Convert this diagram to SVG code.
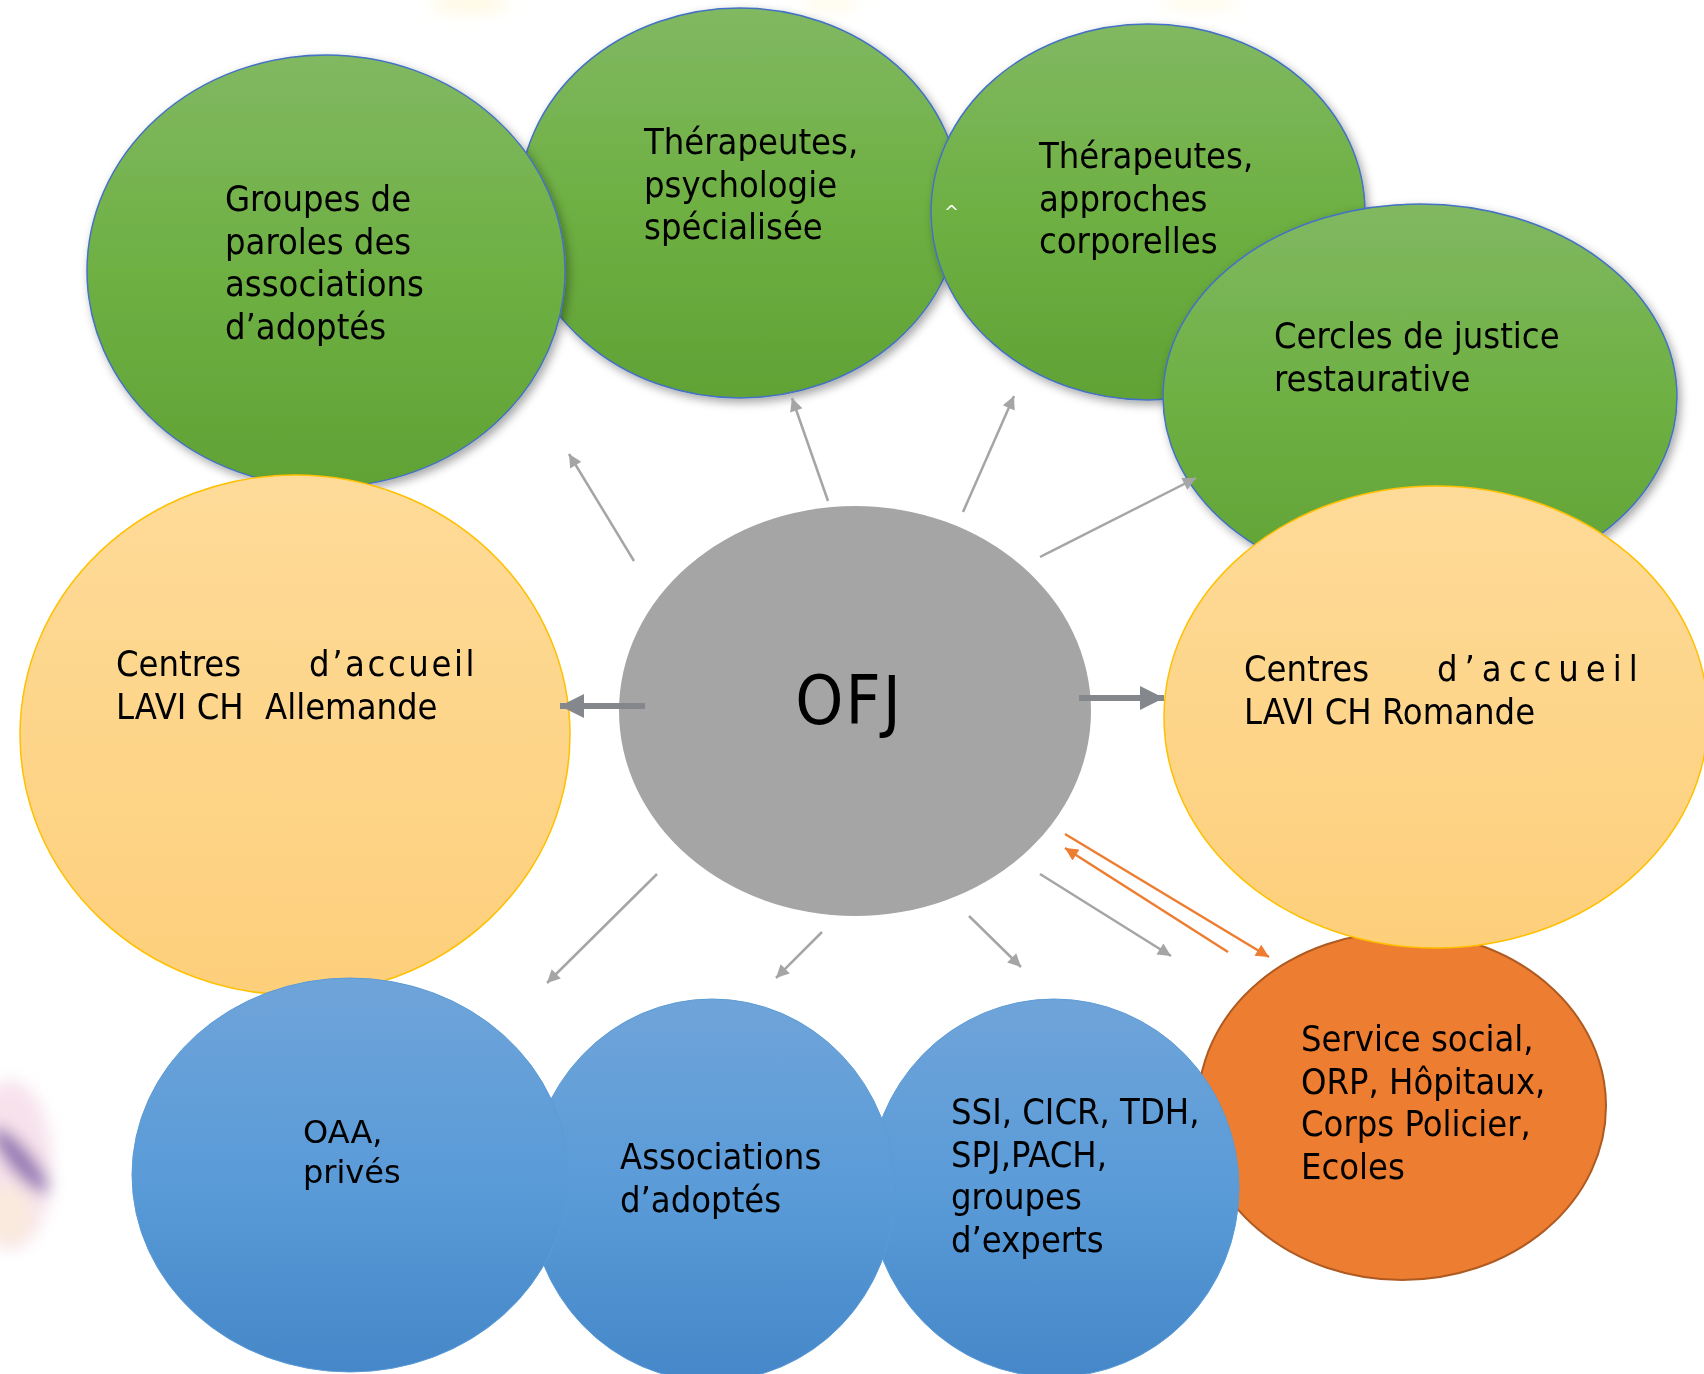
<svg xmlns="http://www.w3.org/2000/svg" width="1704" height="1374" viewBox="0 0 1704 1374">
  <style>
    .lbl { font-family: "DejaVu Sans Condensed", "DejaVu Sans", "Liberation Sans", sans-serif; font-size: 36px; fill: #000; }
    .lbl2 { font-family: "DejaVu Sans", "Liberation Sans", sans-serif; font-size: 32px; fill: #000; }
    .green { fill: url(#gGreen); stroke: #4472c4; stroke-width: 1.5; filter: url(#shadow); }
    .yellow { fill: url(#gYellow); stroke: #ffc000; stroke-width: 1.5; }
    .blue { fill: url(#gBlue); stroke: #5b9bd5; stroke-width: 1; }
    .orange { fill: #ed7d31; stroke: #ae5a21; stroke-width: 2; }
    .gray { fill: #a5a5a5; }
    .thin { stroke: #a5a5a5; stroke-width: 2.5; fill: none; marker-end: url(#mGray); }
    .thick { stroke: #84878b; stroke-width: 6; fill: none; marker-end: url(#mThick); }
    .org { stroke: #ed7d31; stroke-width: 2.5; fill: none; marker-end: url(#mOrange); }
  </style>
  <defs>
    <linearGradient id="gGreen" x1="0" y1="0" x2="0" y2="1">
      <stop offset="0" stop-color="#81b862"/>
      <stop offset="0.5" stop-color="#6eb043"/>
      <stop offset="1" stop-color="#61a235"/>
    </linearGradient>
    <linearGradient id="gYellow" x1="0" y1="0" x2="0" y2="1">
      <stop offset="0" stop-color="#fedb99"/>
      <stop offset="1" stop-color="#fdcf7b"/>
    </linearGradient>
    <linearGradient id="gBlue" x1="0" y1="0" x2="0" y2="1">
      <stop offset="0" stop-color="#6fa4d9"/>
      <stop offset="0.5" stop-color="#5a9bd8"/>
      <stop offset="1" stop-color="#4587c8"/>
    </linearGradient>
    <filter id="shadow" x="-10%" y="-10%" width="125%" height="125%">
      <feDropShadow dx="3" dy="4" stdDeviation="5" flood-color="#000" flood-opacity="0.35"/>
    </filter>
    <filter id="blur" x="-50%" y="-50%" width="200%" height="200%">
      <feGaussianBlur stdDeviation="8"/>
    </filter>
    <marker id="mGray" viewBox="0 0 10 10" refX="10" refY="5" markerUnits="userSpaceOnUse" markerWidth="16" markerHeight="13" orient="auto">
      <path d="M0,0 L10,5 L0,10 z" fill="#a5a5a5"/>
    </marker>
    <marker id="mThick" viewBox="0 0 10 10" refX="10" refY="5" markerUnits="userSpaceOnUse" markerWidth="24" markerHeight="24" orient="auto">
      <path d="M0,0 L10,5 L0,10 z" fill="#84878b"/>
    </marker>
    <marker id="mOrange" viewBox="0 0 10 10" refX="10" refY="5" markerUnits="userSpaceOnUse" markerWidth="16" markerHeight="13" orient="auto">
      <path d="M0,0 L10,5 L0,10 z" fill="#ed7d31"/>
    </marker>
  </defs>

  <rect width="1704" height="1374" fill="#ffffff"/>

  <!-- faint smears along the top and left edges -->
  <g id="smudges" filter="url(#blur)">
    <ellipse cx="470" cy="4" rx="40" ry="8" fill="#fff3c8" opacity="0.6"/>
    <ellipse cx="830" cy="3" rx="30" ry="6" fill="#fff3c8" opacity="0.5"/>
    <ellipse cx="1200" cy="3" rx="40" ry="6" fill="#fff3c8" opacity="0.5"/>
    <ellipse cx="10" cy="1165" rx="42" ry="85" fill="#f3d6e4" opacity="0.7"/>
    <ellipse cx="8" cy="1215" rx="25" ry="30" fill="#fbf0d4" opacity="0.6"/>
    <ellipse cx="20" cy="1160" rx="12" ry="42" transform="rotate(-40 20 1160)" fill="#7a5ca6" opacity="0.8"/>
  </g>

  <!-- top row: green nodes -->
  <g id="node-therapeutes-psy">
    <ellipse class="green" cx="740" cy="203" rx="221" ry="195"/>
    <text class="lbl" x="644" y="154">Thérapeutes,<tspan x="644" dy="42.5">psychologie</tspan><tspan x="644" dy="42.5">spécialisée</tspan></text>
  </g>
  <g id="node-therapeutes-corps">
    <ellipse class="green" cx="1148" cy="212" rx="217" ry="188"/>
    <text class="lbl" x="1039" y="168">Thérapeutes,<tspan x="1039" dy="42.5">approches</tspan><tspan x="1039" dy="42.5">corporelles</tspan></text>
    <text x="944" y="218" font-family="DejaVu Sans, sans-serif" font-size="18" fill="#ffffff">^</text>
  </g>
  <g id="node-cercles">
    <ellipse class="green" cx="1420" cy="397" rx="257" ry="193"/>
    <text class="lbl" x="1274" y="348">Cercles de justice<tspan x="1274" dy="42.5">restaurative</tspan></text>
  </g>
  <g id="node-groupes">
    <ellipse class="green" cx="326" cy="271" rx="239" ry="216"/>
    <text class="lbl" x="225" y="211">Groupes de<tspan x="225" dy="42.5">paroles des</tspan><tspan x="225" dy="42.5">associations</tspan><tspan x="225" dy="42.5">d’adoptés</tspan></text>
  </g>

  <!-- middle row -->
  <g id="node-lavi-allemande">
    <ellipse class="yellow" cx="295" cy="735" rx="275" ry="260"/>
    <text class="lbl" x="116" y="676">Centres<tspan x="309" letter-spacing="2.6">d’accueil</tspan><tspan x="116" dy="42.5">LAVI CH</tspan><tspan x="265">Allemande</tspan></text>
  </g>
  <g id="node-social">
    <ellipse class="orange" cx="1402" cy="1106" rx="204" ry="174"/>
    <text class="lbl" x="1301" y="1051">Service social,<tspan x="1301" dy="42.5">ORP, Hôpitaux,</tspan><tspan x="1301" dy="42.5">Corps Policier,</tspan><tspan x="1301" dy="42.5">Ecoles</tspan></text>
  </g>
  <g id="node-lavi-romande">
    <ellipse class="yellow" cx="1436" cy="717" rx="272" ry="231"/>
    <text class="lbl" x="1244" y="681">Centres<tspan x="1437" letter-spacing="7">d’accueil</tspan><tspan x="1244" dy="42.5">LAVI CH Romande</tspan></text>
  </g>

  <!-- bottom row: blue nodes -->
  <g id="node-ssi">
    <ellipse class="blue" cx="1054" cy="1188" rx="185" ry="189"/>
    <text class="lbl" x="951" y="1124">SSI, CICR, TDH,<tspan x="951" dy="42.5">SPJ,PACH,</tspan><tspan x="951" dy="42.5">groupes</tspan><tspan x="951" dy="42.5">d’experts</tspan></text>
  </g>
  <g id="node-associations">
    <ellipse class="blue" cx="712" cy="1190" rx="183" ry="191"/>
    <text class="lbl" x="620" y="1169">Associations<tspan x="620" dy="42.5">d’adoptés</tspan></text>
  </g>
  <g id="node-oaa">
    <ellipse class="blue" cx="350" cy="1175" rx="218" ry="197"/>
    <text class="lbl2" x="303" y="1143">OAA,<tspan x="303" dy="40">privés</tspan></text>
  </g>

  <!-- centre -->
  <g id="node-ofj">
    <ellipse class="gray" cx="855" cy="711" rx="236" ry="205"/>
    <text x="849" y="724" text-anchor="middle" font-family="DejaVu Sans Condensed, DejaVu Sans, sans-serif" font-size="68" letter-spacing="2" fill="#000">OFJ</text>
  </g>

  <!-- connectors -->
  <g id="connectors">
    <line class="thin" x1="634" y1="561" x2="569" y2="454"/>
    <line class="thin" x1="828" y1="501" x2="792" y2="398"/>
    <line class="thin" x1="963" y1="512" x2="1014" y2="396"/>
    <line class="thin" x1="1040" y1="557" x2="1196" y2="478"/>
    <line class="thick" x1="645" y1="706" x2="560" y2="706"/>
    <line class="thick" x1="1079" y1="698" x2="1164" y2="698"/>
    <line class="thin" x1="657" y1="874" x2="547" y2="983"/>
    <line class="thin" x1="822" y1="932" x2="776" y2="978"/>
    <line class="thin" x1="969" y1="916" x2="1021" y2="967"/>
    <line class="thin" x1="1040" y1="874" x2="1171" y2="956"/>
    <line class="org" x1="1228" y1="952" x2="1065" y2="848"/>
    <line class="org" x1="1065" y1="834" x2="1269" y2="957"/>
  </g>
</svg>
